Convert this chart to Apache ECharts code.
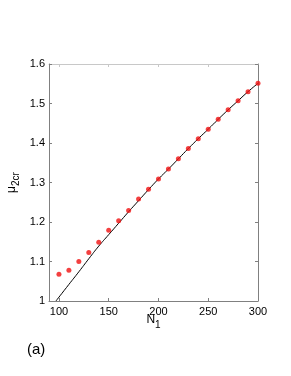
<!DOCTYPE html>
<html><head><meta charset="utf-8">
<script src="https://cdn.jsdelivr.net/npm/echarts@6/dist/echarts.min.js"></script>
<style>html,body{margin:0;padding:0;background:#fff}#c{width:291px;height:376px}</style>
</head><body><div id="c"></div>
<script>
const pointX = [100,110,120,130,140,150,160,170,180,190,200,210,220,230,240,250,260,270,280,290,300];
const pointY = [1.068,1.078,1.100,1.123,1.149,1.179,1.203,1.229,1.258,1.283,1.309,1.334,1.360,1.386,1.411,1.435,1.460,1.484,1.507,1.530,1.551];
const lineX = [97,110,120,130,140,150,160,170,180,190,200,210,220,230,240,250,260,270,280,290,300];
const lineY = [1.000,1.042,1.074,1.107,1.139,1.168,1.197,1.226,1.254,1.282,1.309,1.334,1.360,1.386,1.411,1.435,1.460,1.484,1.507,1.530,1.551];
const xTicks = [100,150,200,250,300];
const yTicks = [1,1.1,1.2,1.3,1.4,1.5,1.6];

const FONT = 'Liberation Sans';
const axisColor = '#808080';
const chart = echarts.init(document.getElementById('c'), null, {renderer:'canvas'});
chart.setOption({
  animation:false,
  backgroundColor:'#fff',
  title:{text:'(a)', left:22, top:337, textStyle:{fontFamily:FONT, fontSize:15, fontWeight:'normal', color:'#000'}},
  grid:{left:49, top:64, right:33, bottom:75, containLabel:false, outerBoundsMode:'none'},
  xAxis:[{
    type:'value', min:90, max:300, position:'bottom',
    name:'{n|N}{s|1}', nameLocation:'middle', nameGap:13, nameMoveOverlap:false,
    nameTextStyle:{rich:{n:{fontFamily:FONT,fontSize:12,color:'#000',lineHeight:14,verticalAlign:'top'},s:{fontFamily:FONT,fontSize:10,color:'#000',padding:[6,0,0,0]}}},
    axisLine:{lineStyle:{color:axisColor,width:1}},
    axisTick:{inside:true,length:3,lineStyle:{color:axisColor},customValues:xTicks},
    axisLabel:{customValues:xTicks,fontFamily:FONT,fontSize:11,color:'#000',margin:5},
    splitLine:{show:false}
  },{
    type:'value', min:90, max:300, position:'top',
    axisLine:{onZero:false,lineStyle:{color:'#c8c8c8',width:1}},
    axisTick:{inside:true,length:3,lineStyle:{color:'#c8c8c8'},customValues:xTicks.slice(0,4)},
    axisLabel:{show:false}, splitLine:{show:false}
  }],
  yAxis:[{
    type:'value', min:1, max:1.6, interval:0.1, position:'left',
    name:'{m|μ}{s|2cr}', nameLocation:'middle', nameRotate:90, nameGap:28, nameMoveOverlap:false,
    nameTextStyle:{rich:{m:{fontFamily:FONT,fontSize:12,color:'#000',lineHeight:14},s:{fontFamily:FONT,fontSize:10,color:'#000',padding:[8,0,0,0]}}},
    axisLine:{show:true,lineStyle:{color:axisColor,width:1}},
    axisTick:{show:true,inside:true,length:3,lineStyle:{color:axisColor}},
    axisLabel:{fontFamily:FONT,fontSize:11,color:'#000',margin:4,formatter:v=>String(+v.toFixed(1))},
    splitLine:{show:false}
  },{
    type:'value', min:1, max:1.6, interval:0.1, position:'right',
    axisLine:{show:true,onZero:false,lineStyle:{color:axisColor,width:1}},
    axisTick:{show:true,inside:true,length:3,lineStyle:{color:axisColor}},
    axisLabel:{show:false}, splitLine:{show:false}
  }],
  series:[{
    type:'line', xAxisIndex:0, yAxisIndex:0,
    data:lineX.map((x,i)=>[x,lineY[i]]),
    showSymbol:false, smooth:true, lineStyle:{color:'#000',width:1}, z:2
  },{
    type:'scatter', xAxisIndex:0, yAxisIndex:0,
    data:pointX.map((x,i)=>[x,pointY[i]]),
    symbol:'circle', symbolSize:5, itemStyle:{color:'#f01010'}, z:3
  }]
});
</script></body></html>
